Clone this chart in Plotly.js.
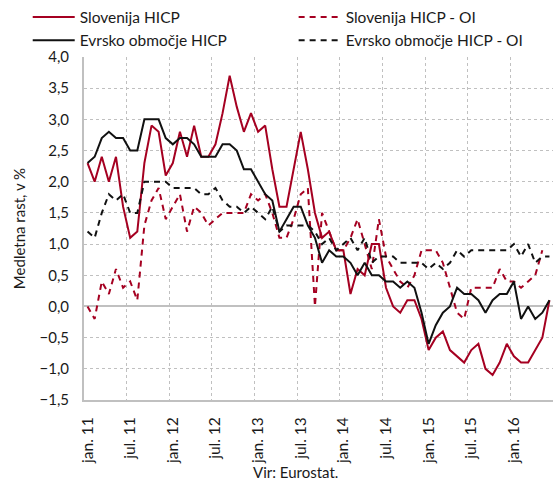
<!DOCTYPE html>
<html>
<head>
<meta charset="utf-8">
<script src="https://cdn.plot.ly/plotly-3.0.1.min.js"></script>
<style>html,body{margin:0;padding:0;background:#fff;}#chart{width:553px;height:482px;}</style>
</head>
<body>
<div id="chart"></div>
<script>
// Month categories Jan 2011 – Jun 2016
var monthNames = ["jan.", "feb.", "mar.", "apr.", "maj", "jun.", "jul.", "avg.", "sep.", "okt.", "nov.", "dec."];
var years = ["11", "12", "13", "14", "15", "16"];
var categories = [];
years.forEach(function (yr) {
  monthNames.forEach(function (m, k) {
    if (yr === "16" && k > 5) return;
    categories.push(m + " " + yr);
  });
});

var sloHICP = [
  2.3, 2.0, 2.4, 2.0, 2.4, 1.6, 1.1, 1.2, 2.3, 2.9, 2.8, 2.1,
  2.3, 2.8, 2.4, 2.9, 2.4, 2.4, 2.6, 3.1, 3.7, 3.2, 2.8, 3.1,
  2.8, 2.9, 2.2, 1.6, 1.6, 2.2, 2.8, 2.2, 1.5, 1.1, 1.2, 0.9,
  0.9, 0.2, 0.6, 0.5, 1.0, 1.0, 0.3, 0.0, -0.1, 0.1, 0.1, -0.2,
  -0.7, -0.5, -0.4, -0.7, -0.8, -0.9, -0.7, -0.6, -1.0, -1.1, -0.9, -0.6,
  -0.8, -0.9, -0.9, -0.7, -0.5, 0.1
];
var sloHICPOI = [
  0.0, -0.2, 0.4, 0.2, 0.6, 0.3, 0.4, 0.1, 1.3, 1.7, 1.9, 1.4,
  1.6, 1.8, 1.2, 1.6, 1.5, 1.3, 1.4, 1.5, 1.5, 1.5, 1.5, 1.8,
  1.7, 1.8, 1.5, 1.1, 1.1, 1.4, 1.8, 1.9, 0.0, 1.5, 1.2, 0.9,
  0.9, 1.1, 1.4, 1.0, 0.6, 1.4, 0.8, 0.6, 0.4, 0.3, 0.5, 0.9,
  0.9, 0.9, 0.7, 0.3, -0.1, -0.2, 0.3, 0.3, 0.3, 0.3, 0.6, 0.4,
  0.4, 0.3, 0.4, 0.5, 0.9, null
];
var eaHICP = [
  2.3, 2.4, 2.7, 2.8, 2.7, 2.7, 2.5, 2.5, 3.0, 3.0, 3.0, 2.7,
  2.6, 2.7, 2.7, 2.6, 2.4, 2.4, 2.4, 2.6, 2.6, 2.5, 2.2, 2.2,
  2.0, 1.8, 1.7, 1.2, 1.4, 1.6, 1.6, 1.3, 1.1, 0.7, 0.9, 0.8,
  0.8, 0.7, 0.5, 0.7, 0.5, 0.5, 0.4, 0.4, 0.3, 0.4, 0.3, -0.1,
  -0.6, -0.3, -0.1, 0.0, 0.3, 0.2, 0.2, 0.1, -0.1, 0.1, 0.2, 0.2,
  0.4, -0.2, 0.0, -0.2, -0.1, 0.1
];
var eaHICPOI = [
  1.2, 1.1, 1.5, 1.8, 1.7, 1.8, 1.5, 1.5, 2.0, 2.0, 2.0, 2.0,
  1.9, 1.9, 1.9, 1.9, 1.8, 1.8, 1.9, 1.7, 1.6, 1.6, 1.5, 1.6,
  1.5, 1.4, 1.6, 1.2, 1.3, 1.3, 1.3, 1.3, 1.2, 1.0, 1.1, 0.9,
  1.0, 1.1, 0.9, 1.1, 0.7, 0.8, 0.8, 0.8, 0.7, 0.7, 0.7, 0.7,
  0.6, 0.7, 0.6, 0.7, 0.9, 0.8, 0.9, 0.9, 0.9, 0.9, 0.9, 0.9,
  1.0, 0.8, 1.0, 0.7, 0.8, 0.8
];
var seriesNames = ["Slovenija HICP", "Slovenija HICP - OI", "Evrsko območje HICP", "Evrsko območje HICP - OI"];
var yTickVals = [-1.5, -1.0, -0.5, 0, 0.5, 1.0, 1.5, 2.0, 2.5, 3.0, 3.5, 4.0];

var red = "#a50021";
var blk = "#111111";
var fontFam = "Lato, 'Open Sans', sans-serif";

var traces = [
  {x: categories, y: sloHICP, name: seriesNames[0], type: "scatter", mode: "lines",
   line: {color: red, width: 2}, legend: "legend"},
  {x: categories, y: sloHICPOI, name: seriesNames[1], type: "scatter", mode: "lines",
   line: {color: red, width: 2, dash: "6px,5px"}, legend: "legend2"},
  {x: categories, y: eaHICP, name: seriesNames[2], type: "scatter", mode: "lines",
   line: {color: blk, width: 2}, legend: "legend"},
  {x: categories, y: eaHICPOI, name: seriesNames[3], type: "scatter", mode: "lines",
   line: {color: blk, width: 2, dash: "6px,5px"}, legend: "legend2"}
];

var legendCommon = {
  orientation: "v", xanchor: "left", y: 1.165, yanchor: "top",
  itemwidth: 42, tracegroupgap: 0,
  font: {family: fontFam, size: 15.5, color: "#1a1a1a"},
  bgcolor: "rgba(0,0,0,0)"
};
var legend1 = Object.assign({}, legendCommon, {x: -0.12});
var legend2 = Object.assign({}, legendCommon, {x: 0.447});

var layout = {
  width: 553, height: 482,
  margin: {l: 84, r: 0, t: 57, b: 82},
  paper_bgcolor: "#fff", plot_bgcolor: "#fff",
  separators: ", ",
  font: {family: fontFam, size: 15, color: "#1a1a1a"},
  showlegend: true,
  legend: legend1,
  legend2: legend2,
  xaxis: {
    type: "category", categoryorder: "array", categoryarray: categories,
    range: [-0.5, categories.length - 0.5],
    tickmode: "linear", tick0: 0, dtick: 6, tickson: "boundaries",
    tickangle: -90, ticks: "", ticklabelstandoff: 9,
    showgrid: true, gridcolor: "#c0c0c0", griddash: "dot", gridwidth: 1,
    showline: true, linecolor: "#c0c0c0", linewidth: 2,
    tickfont: {family: fontFam, size: 15.5, color: "#1a1a1a"},
    fixedrange: true
  },
  yaxis: {
    range: [-1.5, 4.0], tickmode: "array", tickvals: yTickVals, tickformat: ".1f",
    ticks: "", ticklabelstandoff: 10,
    showgrid: true, gridcolor: "#c0c0c0", griddash: "dot", gridwidth: 1,
    zeroline: true, zerolinecolor: "#c0c0c0", zerolinewidth: 2,
    showline: true, linecolor: "#c0c0c0", linewidth: 2,
    title: {text: "Medletna rast, v %", font: {family: fontFam, size: 15, color: "#1a1a1a"}, standoff: 10},
    tickfont: {family: fontFam, size: 15, color: "#1a1a1a"},
    fixedrange: true
  },
  annotations: [{
    text: "Vir: Eurostat.", xref: "paper", yref: "paper",
    x: 0.45, y: -0.21, xanchor: "center", yanchor: "middle", showarrow: false,
    font: {family: fontFam, size: 15, color: "#1a1a1a"}
  }]
};

Plotly.newPlot("chart", traces, layout, {displayModeBar: false, staticPlot: true});
</script>
</body>
</html>
